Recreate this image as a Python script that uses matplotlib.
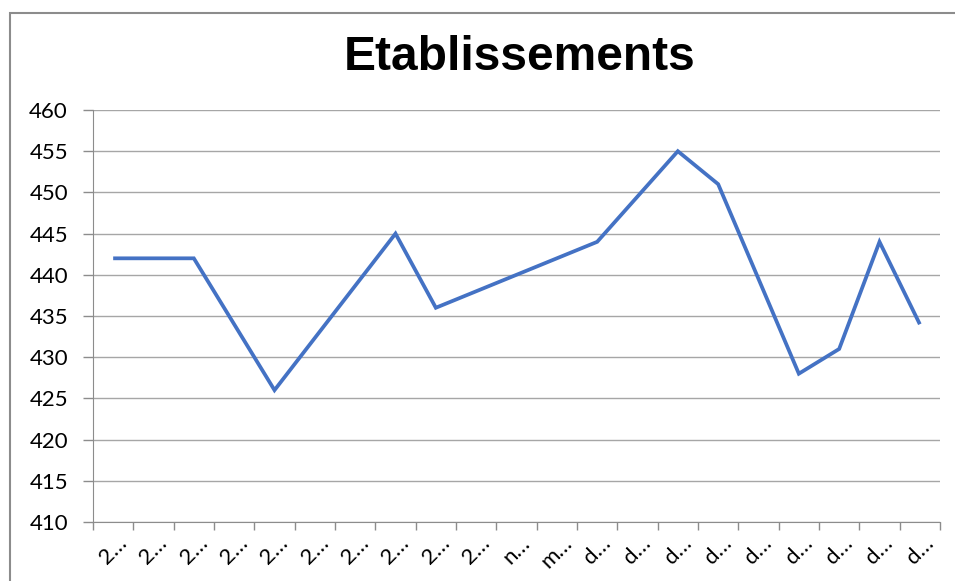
import numpy as np
import matplotlib
matplotlib.use("Agg")
import matplotlib.pyplot as plt
from matplotlib.patches import Rectangle

# Data (truncated category labels, as shown on the chart)
CATEGORIES = ["2\u2026"] * 10 + ["n\u2026", "m\u2026"] + ["d\u2026"] * 9
VALUES = [442, np.nan, 442, np.nan, 426, np.nan, np.nan, 445, 436, np.nan,
          np.nan, np.nan, 444, np.nan, 455, 451, np.nan, 428, 431, 444, 434]
Y_TICKS = list(range(410, 461, 5))
TITLE = "Etablissements"

LINE_COLOR = "#4472C4"
GRID_COLOR = "#A6A6A6"
AXIS_COLOR = "#8C8C8C"

TICK_FONT = ["Lato", "DejaVu Sans"]

fig = plt.figure(figsize=(9.55, 5.81), dpi=100)
ax = fig.add_axes([93 / 955, 1 - 522 / 581, (940 - 93) / 955, (522 - 110) / 581])

# connect the points that have a value, skip the empty cells
x = np.arange(len(CATEGORIES))
vals = np.array(VALUES, dtype=float)
mask = ~np.isnan(vals)
ax.plot(x[mask], vals[mask], color=LINE_COLOR, lw=2.7, solid_joinstyle="miter",
        solid_capstyle="butt", zorder=3)

ax.set_xlim(-0.5, len(CATEGORIES) - 0.5)
ax.set_ylim(410, 460)
ax.set_yticks(Y_TICKS)
ax.set_yticklabels([str(v) for v in Y_TICKS], family=TICK_FONT, fontsize=16)

# category labels centered, tick marks on boundaries
ax.set_xticks(x)
ax.set_xticklabels(CATEGORIES, rotation=45, ha="center", va="top",
                   family=TICK_FONT, fontsize=16)
ax.tick_params(axis="x", which="major", length=0, pad=8)
ax.set_xticks(np.arange(-0.5, len(CATEGORIES), 1), minor=True)
ax.tick_params(axis="x", which="minor", length=6, width=1, color=AXIS_COLOR,
               direction="out")
ax.tick_params(axis="y", length=7, width=1, color=AXIS_COLOR, pad=11)

ax.yaxis.grid(True, color=GRID_COLOR, lw=1)
ax.set_axisbelow(True)
for side in ["top", "right"]:
    ax.spines[side].set_visible(False)
ax.spines["left"].set_color(AXIS_COLOR)
ax.spines["bottom"].set_color(AXIS_COLOR)

fig.text(520 / 955, 1 - 70 / 581, TITLE, ha="center", va="baseline",
         fontsize=34.5, fontweight="bold", family=["Liberation Sans", "DejaVu Sans"])

# chart frame
fig.patches.append(Rectangle((9.5 / 955, -0.1), 1.2, 1.1 - 13 / 581,
                             transform=fig.transFigure, fill=False,
                             edgecolor=AXIS_COLOR, lw=1.5))

fig.savefig("out.png", dpi=100)
